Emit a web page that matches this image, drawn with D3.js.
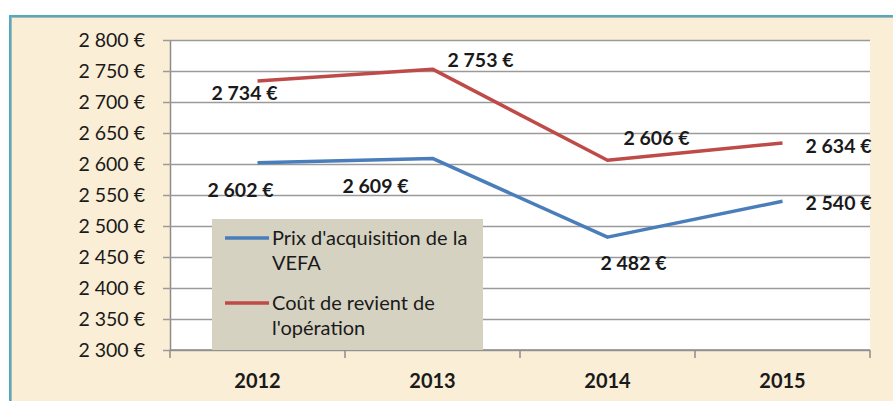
<!DOCTYPE html>
<html>
<head>
<meta charset="utf-8">
<script src="https://cdn.jsdelivr.net/npm/d3@7"></script>
<style>
  body { margin: 0; background: #fff; }
  svg { display: block; }
  text { font-family: Lato, "Open Sans", sans-serif; fill: #1a1a1a; }
</style>
</head>
<body>
<script>
const width = 893;
const height = 401;

const years = ['2012', '2013', '2014', '2015'];
const prixVefa = [2602, 2609, 2482, 2540];
const coutRevient = [2734, 2753, 2606, 2634];
const yTicks = [2300, 2350, 2400, 2450, 2500, 2550, 2600, 2650, 2700, 2750, 2800];
const seriesNames = ["Prix d'acquisition de la|VEFA", "Coût de revient de|l'opération"];

// label offsets from each point (dx, dy), kept apart from the values
const offsetsVefa = [[-17, 34], [-57, 35], [26, 33], [56, 9]];
const offsetsCout = [[-13, 19], [48, -2], [49, -15], [56, 10]];

const plot = { left: 170, right: 870, top: 40, bottom: 350 };
const colors = ['#4a7ebb', '#be4b48'];

const locale = d3.formatLocale({ decimal: ',', thousands: '\u00a0', grouping: [3], currency: ['', '\u00a0€'] });
const fmt = locale.format('$,.0f');

const svg = d3.select('body')
  .append('svg')
    .attr('width', width)
    .attr('height', height);

// parchment frame
svg.append('rect')
  .attr('x', 9).attr('y', 15)
  .attr('width', width - 9).attr('height', height - 15)
  .attr('fill', '#4bacc6');
svg.append('rect')
  .attr('x', 11).attr('y', 17)
  .attr('width', width - 11).attr('height', height - 17)
  .attr('fill', '#b9b4a8');
svg.append('rect')
  .attr('x', 12).attr('y', 18)
  .attr('width', width - 12).attr('height', height - 18)
  .attr('fill', '#faeed6');

const x = d3.scaleBand()
  .domain(years)
  .range([plot.left, plot.right]);

const y = d3.scaleLinear()
  .domain([2300, 2800])
  .range([plot.bottom, plot.top]);

svg.append('rect')
  .attr('x', plot.left).attr('y', plot.top)
  .attr('width', plot.right - plot.left).attr('height', plot.bottom - plot.top)
  .attr('fill', '#ffffff');

const yAxis = d3.axisLeft(y)
  .tickValues(yTicks)
  .tickSizeInner(-(plot.right - plot.left))
  .tickSizeOuter(0)
  .tickPadding(25)
  .tickFormat(fmt);

const gy = svg.append('g')
  .attr('transform', `translate(${plot.left},0)`)
  .call(yAxis);
gy.select('.domain').attr('stroke', '#8c8c8c').attr('stroke-width', 1.5);
gy.selectAll('.tick line')
  .attr('x1', -7)
  .attr('stroke', '#9a9a9a')
  .attr('stroke-width', 1.5);
gy.selectAll('.tick text')
  .attr('font-size', 19.5)
  .attr('fill', '#1a1a1a')
  .attr('font-family', 'Lato, sans-serif');

// category axis
const gx = svg.append('g').attr('transform', `translate(0,${plot.bottom})`);
gx.append('line')
  .attr('x1', plot.left).attr('x2', plot.right)
  .attr('stroke', '#8c8c8c').attr('stroke-width', 1.5);
gx.selectAll('.cat-tick')
  .data(years.concat(['end']))
  .enter()
  .append('line')
    .attr('x1', (d, i) => plot.left + i * x.bandwidth())
    .attr('x2', (d, i) => plot.left + i * x.bandwidth())
    .attr('y1', 0).attr('y2', 8)
    .attr('stroke', '#8c8c8c').attr('stroke-width', 1.5);
gx.selectAll('.cat-label')
  .data(years)
  .enter()
  .append('text')
    .attr('x', (d) => x(d) + x.bandwidth() / 2)
    .attr('y', 38)
    .attr('text-anchor', 'middle')
    .attr('font-size', 20)
    .attr('font-weight', 'bold')
    .text((d) => d);

const line = d3.line()
  .x((d, i) => x(years[i]) + x.bandwidth() / 2)
  .y((d) => y(d));

const series = [
  { values: prixVefa, offsets: offsetsVefa, color: colors[0] },
  { values: coutRevient, offsets: offsetsCout, color: colors[1] },
];

series.forEach((s) => {
  svg.append('path')
    .attr('fill', 'none')
    .attr('stroke', s.color)
    .attr('stroke-width', 3.5)
    .attr('stroke-linejoin', 'round')
    .attr('d', line(s.values));

  svg.selectAll(null)
    .data(s.values)
    .enter()
    .append('text')
      .attr('x', (d, i) => x(years[i]) + x.bandwidth() / 2 + s.offsets[i][0])
      .attr('y', (d, i) => y(d) + s.offsets[i][1])
      .attr('text-anchor', 'middle')
      .attr('font-size', 19.5)
      .attr('font-weight', 'bold')
      .text((d) => fmt(d));
});

// legend
const legend = svg.append('g');
legend.append('rect')
  .attr('x', 212).attr('y', 219)
  .attr('width', 271).attr('height', plot.bottom - 219)
  .attr('fill', '#d6d2c2');

seriesNames.forEach((name, i) => {
  const top = 238 + i * 65;
  legend.append('line')
    .attr('x1', 225).attr('x2', 269)
    .attr('y1', top).attr('y2', top)
    .attr('stroke', colors[i])
    .attr('stroke-width', 3.5);
  name.split('|').forEach((part, j) => {
    legend.append('text')
      .attr('x', 272)
      .attr('y', top + 7 + j * 25)
      .attr('font-size', 20)
      .text(part);
  });
});
</script>
</body>
</html>
